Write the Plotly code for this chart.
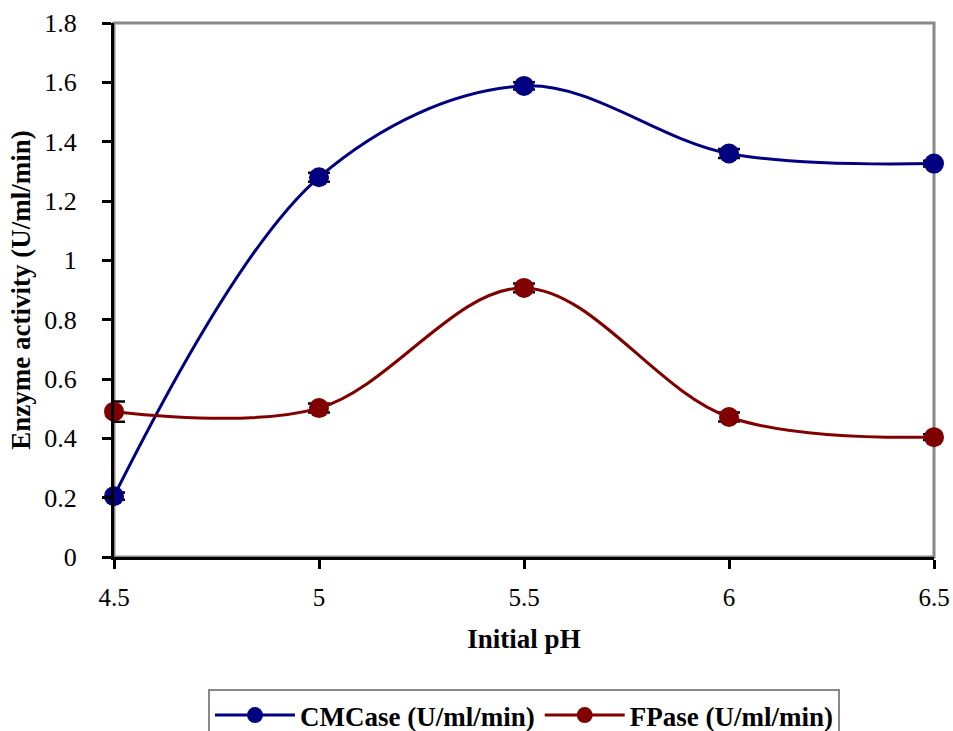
import plotly.graph_objects as go

ph = [4.5, 5.0, 5.5, 6.0, 6.5]
cmcase = [0.205, 1.28, 1.588, 1.36, 1.326]
cmcase_err = [0.012, 0.015, 0.012, 0.015, 0.01]
fpase = [0.49, 0.502, 0.907, 0.472, 0.404]
fpase_err = [0.034, 0.015, 0.015, 0.015, 0.01]

x_ticks = [4.5, 5, 5.5, 6, 6.5]
x_labels = ["4.5", "5", "5.5", "6", "6.5"]
y_ticks = [0, 0.2, 0.4, 0.6, 0.8, 1.0, 1.2, 1.4, 1.6, 1.8]
y_labels = ["0", "0.2", "0.4", "0.6", "0.8", "1", "1.2", "1.4", "1.6", "1.8"]

font_family = "Liberation Serif, Times New Roman, serif"

fig = go.Figure()
for name, vals, errs, color in [
    ("CMCase (U/ml/min)", cmcase, cmcase_err, "#000080"),
    ("FPase (U/ml/min)", fpase, fpase_err, "#800000"),
]:
    fig.add_trace(go.Scatter(
        x=ph, y=vals, name=name, mode="lines+markers",
        line=dict(color=color, width=3, shape="spline", smoothing=1.0),
        marker=dict(color=color, size=20, symbol="circle"),
        error_y=dict(type="data", array=errs, visible=True, color="black",
                     thickness=2.5, width=11),
        cliponaxis=False,
    ))

fig.add_shape(type="rect", xref="paper", yref="paper", x0=0, x1=1, y0=0, y1=1,
              line=dict(color="#888888", width=3), layer="below")

fig.update_layout(
    width=953, height=731,
    margin=dict(l=114, r=19, t=23, b=174, autoexpand=False),
    plot_bgcolor="white", paper_bgcolor="white",
    font=dict(family=font_family, size=25, color="black"),
    showlegend=True,
    legend=dict(orientation="h", x=0.5, xanchor="center", y=-0.2472, yanchor="top",
                bordercolor="#888888", borderwidth=2,
                font=dict(size=27, family=font_family, weight="bold"),
                itemwidth=80, tracegroupgap=0),
    xaxis=dict(
        range=[4.5, 6.5], tickvals=x_ticks, ticktext=x_labels,
        showgrid=False, zeroline=False, automargin=False,
        showline=True, linecolor="black", linewidth=3,
        ticks="outside", ticklen=9, tickwidth=3, tickcolor="black",
        tickfont=dict(size=25), ticklabelstandoff=7,
        title=dict(text="Initial pH", font=dict(size=27, weight="bold"), standoff=20),
    ),
    yaxis=dict(
        range=[0, 1.8], tickvals=y_ticks, ticktext=y_labels,
        showgrid=False, zeroline=False, automargin=False,
        showline=True, linecolor="black", linewidth=3,
        ticks="outside", ticklen=9, tickwidth=3, tickcolor="black",
        tickfont=dict(size=26), ticklabelstandoff=20,
        title=dict(text="Enzyme activity (U/ml/min)", font=dict(size=27, weight="bold"), standoff=6),
    ),
)

fig.write_html("out.html", config={"displayModeBar": False},
               post_script="document.body.style.margin='0px';")
